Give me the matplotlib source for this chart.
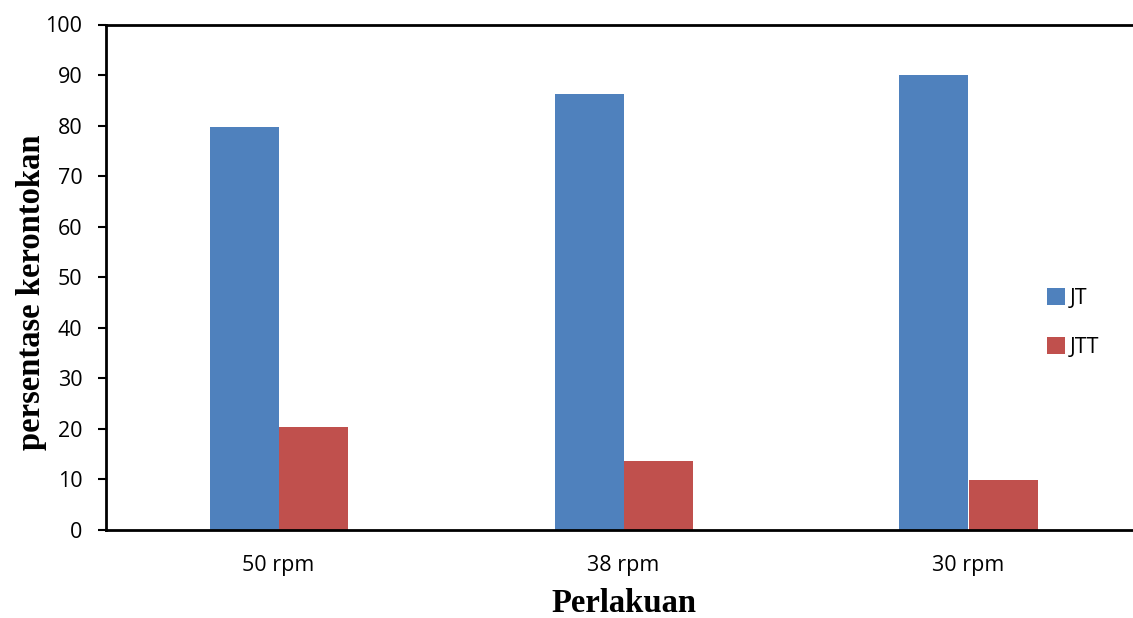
import matplotlib
matplotlib.use("Agg")
import matplotlib.pyplot as plt
import numpy as np

# data
categories = ["50 rpm", "38 rpm", "30 rpm"]
jt_values = [79.7, 86.3, 90.1]
jtt_values = [20.3, 13.6, 9.8]
series_names = ["JT", "JTT"]

blue = "#4F81BD"
red = "#C0504D"
tick_font = "Open Sans"
label_font = "Liberation Serif"

fig = plt.figure(figsize=(11.33, 6.18), dpi=100)
ax = fig.add_axes([106 / 1133, 1 - 530 / 618, 1035 / 1133, (530 - 24.5) / 618])

x = np.arange(len(categories))
width = 0.2
ax.bar(x - width / 2, jt_values, width, color=blue, label=series_names[0])
ax.bar(x + width / 2, jtt_values, width, color=red, label=series_names[1])

ax.set_xlim(-0.5, len(categories) - 0.5)
ax.set_ylim(0, 100)
ax.set_yticks(np.arange(0, 101, 10))
ax.set_xticks(x)
ax.set_xticklabels(categories)

ax.spines["right"].set_visible(False)
for side in ["left", "bottom", "top"]:
    ax.spines[side].set_linewidth(2)
    ax.spines[side].set_color("black")

ax.tick_params(axis="y", direction="out", length=6, width=1.5, pad=11,
               labelsize=15.5)
ax.tick_params(axis="x", length=0, pad=18, labelsize=15.5)
for lbl in ax.get_xticklabels() + ax.get_yticklabels():
    lbl.set_fontfamily(tick_font)

ax.set_ylabel("persentase kerontokan", fontfamily=label_font,
              fontweight="bold", fontsize=23.5)
ax.yaxis.set_label_coords(-0.057, 0.47)
ax.set_xlabel("Perlakuan", fontfamily=label_font, fontweight="bold",
              fontsize=23.5, labelpad=9)

leg = ax.legend(loc="center left", bbox_to_anchor=(1028 / 1133, 1 - 323 / 618),
                bbox_transform=fig.transFigure, frameon=False,
                handlelength=0.8, handleheight=0.8, handletextpad=0.25,
                labelspacing=1.3, prop={"family": tick_font, "size": 15.5})

fig.savefig("out.png", dpi=100)
